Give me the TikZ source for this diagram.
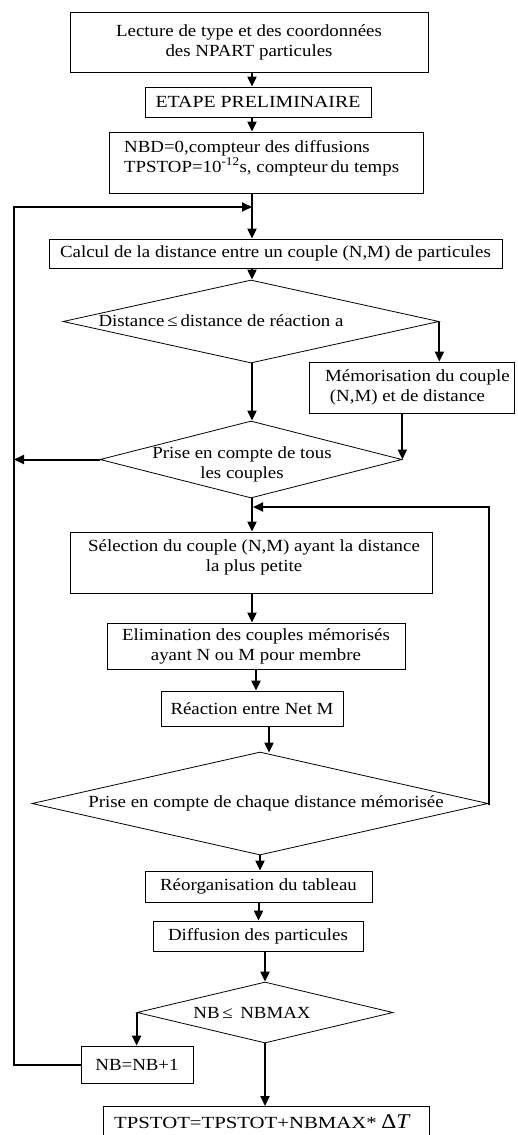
\documentclass[tikz,border=0pt]{standalone}
\usepackage{fontspec}
\setmainfont{Liberation Serif}[FakeStretch=1.11]
\usetikzlibrary{arrows.meta,shapes.geometric}
\newcommand\fs{\fontsize{17}{20}\selectfont}
\begin{document}
\begin{tikzpicture}[x=1pt,y=-1pt,
  box/.style={draw, rectangle, line width=0.8pt, inner sep=0pt, align=center, font=\fs},
  dia/.style={draw, diamond, line width=0.8pt, inner sep=0pt},
  txt/.style={inner sep=0pt, align=center, font=\fs},
  arr/.style={line width=2pt, -{Triangle[length=10pt,width=9pt]}},
]
\clip (0,0) rectangle (517,1135);
\fill[white] (0,0) rectangle (517,1135);

% guide coordinates for the main spine and the two loop lines
\coordinate (sx) at (252,0);
\coordinate (lx) at (14,0);
\coordinate (rx) at (489,0);
\coordinate (b8x) at (269,0);
\coordinate (jt) at (252,207);
\coordinate (jr) at (253,507);

% process boxes
\node[box, minimum width=358, minimum height=60] (B1) at (249,42)
  {Lecture de type et des coordonnées\\des NPART particules};
\node[box, minimum width=226, minimum height=30] (B2) at (258,102)
  {\scalebox{1.05}[1]{ETAPE PRELIMINAIRE}};
\node[box, minimum width=314, minimum height=61] (B3) at (266,162.5) {};
\node[txt, anchor=west, align=left] (T3) at (124,158)
  {NBD=0,compteur des diffusions\\TPSTOP=10\textsuperscript{-12}s, compteur\,du temps};
\node[box, minimum width=453, minimum height=29] (B4) at (275.5,253.5)
  {Calcul de la distance entre un couple (N,M) de particules};
\node[box, minimum width=205, minimum height=51] (B5) at (411.5,387.5) {};
\node[txt, anchor=west, align=left] (T5) at (325,387.5)
  {Mémorisation du couple\\\ (N,M) et de distance};
\node[box, minimum width=362, minimum height=61] (B6) at (251,562.5) {};
\node[txt] (T6) at (254,557.5) {Sélection du couple (N,M) ayant la distance\\la plus petite};
\node[box, minimum width=298, minimum height=46] (B7) at (256,646)
  {Elimination des couples mémorisés\\ayant N ou M pour membre};
\node[box, minimum width=182, minimum height=35] (B8) at (252,708.5) {Réaction entre Net M};
\node[box, minimum width=227, minimum height=31] (B9) at (258.5,886.5) {Réorganisation du tableau};
\node[box, minimum width=210, minimum height=30] (B10) at (258,936) {Diffusion des particules};
\node[box, minimum width=112, minimum height=37] (B11) at (137,1064.5) {NB=NB+1};
\node[box, minimum width=326, minimum height=50, anchor=north] (B12) at (266,1106) {};
\node[txt, anchor=west] (T12) at (114,1122)
  {\scalebox{1.1}[1]{TPSTOT=TPSTOT+NBMAX*} {\fontsize{21}{21}\selectfont Δ\textit{T}}};

% decisions
\node[dia, minimum width=376, minimum height=83] (D1) at (251,321.5) {};
\node[txt] (TD1) at (221,321) {Distance\,≤\,distance de réaction a};
\node[dia, minimum width=302, minimum height=77] (D2) at (251,459.5) {};
\node[txt] (TD2) at (242,464) {Prise en compte de tous\\les couples};
\node[dia, minimum width=456, minimum height=103] (D3) at (260,803.5) {};
\node[txt] (TD3) at (266,803) {Prise en compte de chaque distance mémorisée};
\node[dia, minimum width=256, minimum height=61] (D4) at (265,1012.5) {};
\node[txt] (TD4) at (252,1013) {NB\,≤\, NBMAX};

% main flow
\draw[arr] (B1.south -| sx) -- (B2.north -| sx);
\draw[arr] (B2.south -| sx) -- (B3.north -| sx);
\draw[arr] (B3.south -| sx) -- (B4.north -| sx);
\draw[arr] (B4.south -| sx) -- (D1.north -| sx);
\draw[arr] (D1.east) -- (D1.east |- B5.north);
\draw[arr] (D1.south -| sx) -- (D2.north -| sx);
\draw[arr] (B5.south -| D2.east) -- (D2.east);
\draw[arr] (D2.west) -- (lx |- D2.west);
\draw[arr] (D2.south -| sx) -- (B6.north -| sx);
\draw[arr] (B6.south -| sx) -- (B7.north -| sx);
\draw[arr] (B7.south) -- (B7.south |- B8.north);
\draw[arr] (B8.south -| b8x) -- ([yshift=-1]b8x |- D3.north);
\draw[arr] (D3.south) -- (D3.south |- B9.north);
\draw[arr] (B9.south) -- (B9.south |- B10.north);
\draw[arr] (B10.south -| D4.north) -- (D4.north);
\draw[arr] (D4.west) -- (D4.west |- B11.north);
\draw[arr] (D4.south) -- (D4.south |- B12.north);

% loops
\draw[arr] (B11.west) -| (lx |- jt) -- (jt);
\draw[arr] (D3.east) -| (rx |- jr) -- (jr);
\end{tikzpicture}
\end{document}
